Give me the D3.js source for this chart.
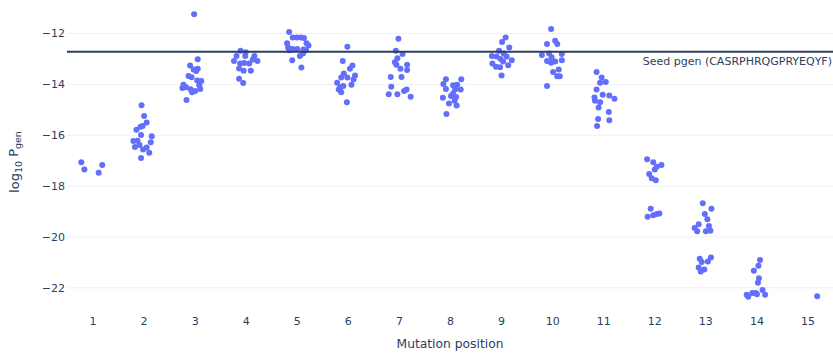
<!DOCTYPE html>
<html>
<head>
<meta charset="utf-8">
<script src="https://cdn.jsdelivr.net/npm/d3@7"></script>
<style>
  html, body { margin: 0; padding: 0; background: #fff; }
  svg { display: block; font-family: "DejaVu Sans", Verdana, sans-serif; }
</style>
</head>
<body>
<svg id="chart" width="833" height="354"></svg>
<script>
// Mutation positions along the CDR3 (x axis)
const positions = [1, 2, 3, 4, 5, 6, 7, 8, 9, 10, 11, 12, 13, 14, 15];

// log10 Pgen of each single-mutant sequence, grouped by mutated position
const pgenByPosition = [
  [-17.06, -17.35, -17.48, -17.17],
  [-14.82, -15.25, -15.50, -15.64, -15.67, -15.79, -15.99, -16.04, -16.23, -16.22, -16.28, -16.46, -16.39, -16.56, -16.48, -16.69, -16.90],
  [-11.25, -13.01, -13.26, -13.42, -13.39, -13.48, -13.67, -13.72, -13.85, -13.87, -14.02, -14.12, -14.14, -14.19, -14.26, -14.31, -14.18, -14.04, -14.62],
  [-12.68, -12.74, -12.89, -12.89, -12.89, -13.08, -13.18, -13.16, -13.18, -13.02, -13.08, -13.38, -13.47, -13.47, -13.78, -13.95],
  [-11.94, -12.16, -12.16, -12.16, -12.18, -12.39, -12.39, -12.47, -12.55, -12.61, -12.61, -12.63, -12.66, -12.66, -12.79, -12.89, -13.05, -13.34],
  [-12.52, -13.08, -13.26, -13.39, -13.57, -13.65, -13.73, -13.73, -13.81, -13.94, -14.02, -14.12, -14.07, -14.20, -14.31, -14.70],
  [-12.21, -12.68, -12.81, -12.98, -13.13, -13.23, -13.23, -13.39, -13.44, -13.71, -13.71, -14.10, -14.26, -14.20, -14.39, -14.39, -14.49],
  [-13.80, -13.80, -13.99, -14.04, -14.02, -14.18, -14.20, -14.20, -14.36, -14.46, -14.53, -14.50, -14.65, -14.75, -14.83, -15.17],
  [-12.16, -12.34, -12.55, -12.68, -12.79, -12.89, -12.91, -12.91, -13.00, -13.05, -13.18, -13.10, -13.31, -13.33, -13.25, -13.65],
  [-11.83, -12.42, -12.29, -12.42, -12.85, -12.79, -12.94, -12.81, -13.08, -13.10, -13.05, -13.15, -13.42, -13.52, -13.68, -13.68, -14.07],
  [-13.52, -13.73, -13.91, -13.94, -14.20, -14.41, -14.44, -14.57, -14.52, -14.65, -14.70, -14.91, -15.09, -15.36, -15.41, -15.64],
  [-16.95, -17.06, -17.17, -17.24, -17.35, -17.53, -17.69, -17.77, -18.89, -19.21, -19.15, -19.10, -19.08],
  [-18.68, -18.89, -19.10, -19.30, -19.50, -19.65, -19.78, -19.57, -19.78, -19.76, -20.81, -20.86, -20.96, -20.98, -21.20, -21.28, -21.36],
  [-20.91, -21.13, -21.33, -21.62, -21.80, -22.09, -22.20, -22.20, -22.25, -22.27, -22.35, -22.27],
  [-22.33]
];

// Horizontal strip jitter of each point, in position units
const jitterByPosition = [
  [-0.22, -0.16, 0.12, 0.19],
  [-0.04, 0.01, 0.06, -0.02, -0.06, -0.14, -0.05, 0.16, -0.20, -0.12, 0.14, -0.17, -0.08, -0.01, 0.06, 0.11, -0.05],
  [-0.01, 0.06, -0.09, -0.02, 0.06, 0.03, -0.12, -0.06, 0.05, 0.13, -0.22, -0.17, -0.24, -0.08, 0.01, -0.05, 0.11, 0.09, -0.16],
  [-0.10, 0.00, -0.18, -0.01, 0.17, -0.23, -0.11, -0.03, 0.07, 0.14, 0.23, -0.13, -0.04, 0.10, -0.13, -0.05],
  [-0.15, -0.08, 0.00, 0.08, 0.14, -0.19, 0.19, 0.23, -0.17, -0.08, 0.01, 0.13, 0.18, -0.15, 0.12, 0.06, -0.09, 0.09],
  [-0.01, -0.10, 0.09, 0.04, -0.08, 0.14, -0.13, -0.01, 0.11, -0.21, 0.07, -0.15, -0.09, -0.18, -0.13, -0.02],
  [-0.01, -0.06, 0.07, -0.03, -0.08, -0.05, 0.16, 0.03, 0.16, -0.16, 0.05, -0.15, 0.10, 0.15, -0.20, -0.03, 0.23],
  [-0.08, 0.22, -0.13, 0.06, 0.14, -0.08, 0.10, 0.21, 0.06, 0.02, -0.14, 0.12, 0.09, -0.02, 0.13, -0.07],
  [0.09, 0.02, 0.16, -0.04, 0.05, -0.18, -0.09, 0.11, -0.01, 0.21, -0.17, 0.04, -0.10, -0.02, 0.14, 0.01],
  [-0.02, -0.10, 0.06, 0.10, -0.20, -0.06, -0.01, 0.19, -0.10, 0.06, 0.19, -0.02, 0.13, 0.02, 0.10, 0.15, -0.10],
  [-0.13, -0.03, 0.05, -0.06, -0.13, -0.01, 0.12, 0.22, -0.17, -0.16, -0.06, -0.09, 0.11, -0.10, 0.12, -0.12],
  [-0.14, -0.02, 0.14, 0.05, 0.01, -0.10, -0.05, 0.03, -0.07, -0.13, -0.02, 0.05, 0.10],
  [-0.05, 0.12, -0.01, 0.04, -0.13, -0.21, -0.16, 0.07, 0.01, 0.10, 0.11, -0.11, 0.05, -0.07, -0.13, -0.02, -0.09],
  [0.07, 0.04, -0.05, 0.05, 0.03, 0.12, -0.08, -0.01, 0.01, -0.19, -0.16, 0.17],
  [0.19]
];

// Generation probability of the seed sequence (log10)
const seedPgen = -12.72;
const seedLabel = "Seed pgen (CASRPHRQGPRYEQYF)";

const yTicks = [-22, -20, -18, -16, -14, -12];
const xDomain = [0.5, 15.5];
const yDomain = [-22.95, -11.0];

const xTitle = "Mutation position";

// ---- layout ----
const plot = { left: 67, right: 833, top: 8, bottom: 312 };
const textColor = "#2a3f5f";
const gridColor = "#ebf0f8";
const markerColor = "#636efa";
const tickFont = "11px";

const svg = d3.select("#chart");

const x = d3.scaleLinear().domain(xDomain).range([plot.left, plot.right]);
const y = d3.scaleLinear().domain(yDomain).range([plot.bottom, plot.top]);

// horizontal grid
svg.append("g")
  .selectAll("line")
  .data(yTicks)
  .join("line")
  .attr("x1", plot.left).attr("x2", plot.right)
  .attr("y1", d => y(d)).attr("y2", d => y(d))
  .attr("stroke", gridColor).attr("stroke-width", 1);

// y axis labels
const yAxis = svg.append("g")
  .attr("transform", `translate(${plot.left},0)`)
  .call(d3.axisLeft(y).tickValues(yTicks).tickSize(0).tickPadding(2).tickFormat(d3.format("d")));
yAxis.select(".domain").remove();
yAxis.selectAll("text").attr("fill", textColor).style("font-size", tickFont).style("font-family", "DejaVu Sans, Verdana, sans-serif");

// x axis labels
const xAxis = svg.append("g")
  .attr("transform", `translate(0,${plot.bottom})`)
  .call(d3.axisBottom(x).tickValues(positions).tickSize(0).tickPadding(5).tickFormat(d3.format("d")));
xAxis.select(".domain").remove();
xAxis.selectAll("text").attr("fill", textColor).style("font-size", tickFont).style("font-family", "DejaVu Sans, Verdana, sans-serif");

// flatten strip points
const points = [];
positions.forEach((p, i) => {
  pgenByPosition[i].forEach((v, j) => {
    points.push({ pos: p, jitter: jitterByPosition[i][j], value: v });
  });
});

// points
svg.append("g")
  .selectAll("circle")
  .data(points)
  .join("circle")
  .attr("cx", d => x(d.pos + d.jitter))
  .attr("cy", d => y(d.value))
  .attr("r", 3)
  .attr("fill", markerColor);

// seed reference line
svg.append("line")
  .attr("x1", plot.left).attr("x2", plot.right)
  .attr("y1", y(seedPgen)).attr("y2", y(seedPgen))
  .attr("stroke", "#2a3f5f").attr("stroke-width", 2);

svg.append("text")
  .attr("x", plot.right - 1)
  .attr("y", y(seedPgen) + 13)
  .attr("text-anchor", "end")
  .attr("fill", textColor)
  .style("font-size", "11px")
  .text(seedLabel);

// axis titles
svg.append("text")
  .attr("x", (plot.left + plot.right) / 2)
  .attr("y", 347.5)
  .attr("text-anchor", "middle")
  .attr("fill", textColor)
  .style("font-size", "12.3px")
  .text(xTitle);

const yTitle = svg.append("text")
  .attr("transform", `translate(19,162) rotate(-90)`)
  .attr("text-anchor", "middle")
  .attr("fill", textColor)
  .style("font-size", "13px");
yTitle.append("tspan").text("log");
yTitle.append("tspan").attr("dy", "0.3em").style("font-size", "9.5px").text("10");
yTitle.append("tspan").attr("dy", "-0.3em").text(" P");
yTitle.append("tspan").attr("dy", "0.3em").style("font-size", "9.5px").text("gen");
</script>
</body>
</html>
